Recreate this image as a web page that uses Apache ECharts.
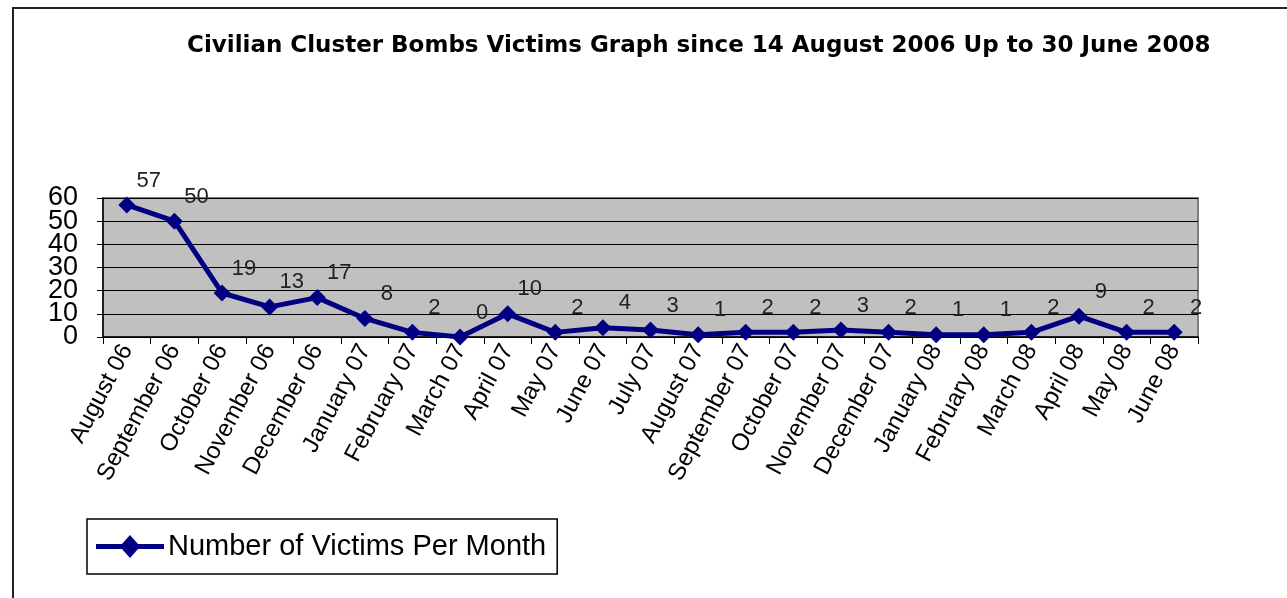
<!DOCTYPE html>
<html>
<head>
<meta charset="utf-8">
<script src="https://cdn.jsdelivr.net/npm/echarts@6/dist/echarts.min.js"></script>
<style>
html,body{margin:0;padding:0;background:#fff;}
#c{width:1287px;height:598px;}
</style>
</head>
<body>
<div id="c"></div>
<script>
const titleText = 'Civilian Cluster Bombs Victims Graph since 14 August 2006 Up to 30 June 2008';
const seriesName = 'Number of Victims Per Month';
const months = ['August 06','September 06','October 06','November 06','December 06','January 07','February 07','March 07','April 07','May 07','June 07','July 07','August 07','September 07','October 07','November 07','December 07','January 08','February 08','March 08','April 08','May 08','June 08'];
const victims = [57,50,19,13,17,8,2,0,10,2,4,3,1,2,2,3,2,1,1,2,9,2,2];
const yTicks = {min:0, max:60, interval:10};

const yLabelStyle = {fontFamily:'Liberation Sans', fontSize:27, color:'#000', margin:25, showMinLabel:true, showMaxLabel:true, hideOverlap:false};

const chart = echarts.init(document.getElementById('c'), null, {renderer:'canvas'});
chart.setOption({
  backgroundColor:'#fff',
  animation:false,
  title:{
    text:titleText, left:187, top:35, padding:0,
    textStyle:{fontFamily:'DejaVu Sans', fontWeight:'bold', fontSize:23, color:'#000'}
  },
  legend:{
    left:87, top:519, orient:'horizontal',
    data:[seriesName],
    itemWidth:68, itemHeight:23, itemGap:4,
    padding:[13,11,13,9],
    borderColor:'#000', borderWidth:1.5, borderRadius:0,
    textStyle:{fontFamily:'Liberation Sans', fontSize:29, color:'#000', padding:[0,0,0,-1]},
    icon:'path://M0,9 L26,9 L34,0 L42,9 L68,9 L68,14 L42,14 L34,23 L26,14 L0,14 Z'
  },
  grid:{left:103, right:89, top:198, bottom:261, show:true, backgroundColor:'#C0C0C0', borderColor:'#808080', borderWidth:2},
  xAxis:{
    type:'category', data:months, boundaryGap:true,
    axisLine:{lineStyle:{color:'#000', width:1.5}},
    axisTick:{show:true, alignWithLabel:false, length:7, lineStyle:{color:'#000'}},
    axisLabel:{rotate:62, interval:0, fontFamily:'Liberation Sans', fontSize:24, lineHeight:24, color:'#000', margin:9}
  },
  yAxis:[{
    type:'value', position:'left', min:yTicks.min, max:yTicks.max, interval:yTicks.interval,
    axisLine:{show:true, lineStyle:{color:'#000', width:1.5}},
    axisTick:{show:true, length:6, lineStyle:{color:'#000'}},
    splitLine:{show:true, lineStyle:{color:'#000', width:1.2}},
    axisLabel:Object.assign({}, yLabelStyle, {formatter:function(v){return (v/yTicks.interval)%2===0 ? String(v) : '';}})
  },{
    type:'value', position:'left', offset:0, min:yTicks.min, max:yTicks.max, interval:yTicks.interval,
    axisLine:{show:false}, axisTick:{show:false}, splitLine:{show:false},
    axisLabel:Object.assign({}, yLabelStyle, {formatter:function(v){return (v/yTicks.interval)%2===1 ? String(v) : '';}})
  }],
  series:[{
    name:seriesName, type:'line', data:victims, yAxisIndex:0,
    color:'#000080',
    lineStyle:{color:'#000080', width:5},
    symbol:'diamond', symbolSize:[17,17],
    itemStyle:{color:'#000080'},
    label:{show:true, position:'top', distance:3, offset:[22,-2], fontFamily:'Liberation Sans', fontSize:22, color:'#222'}
  }],
  graphic:[
    {type:'polyline', shape:{points:[[13,598],[13,8],[1287,8]]}, style:{stroke:'#222', lineWidth:2, fill:null}}
  ]
});
</script>
</body>
</html>
